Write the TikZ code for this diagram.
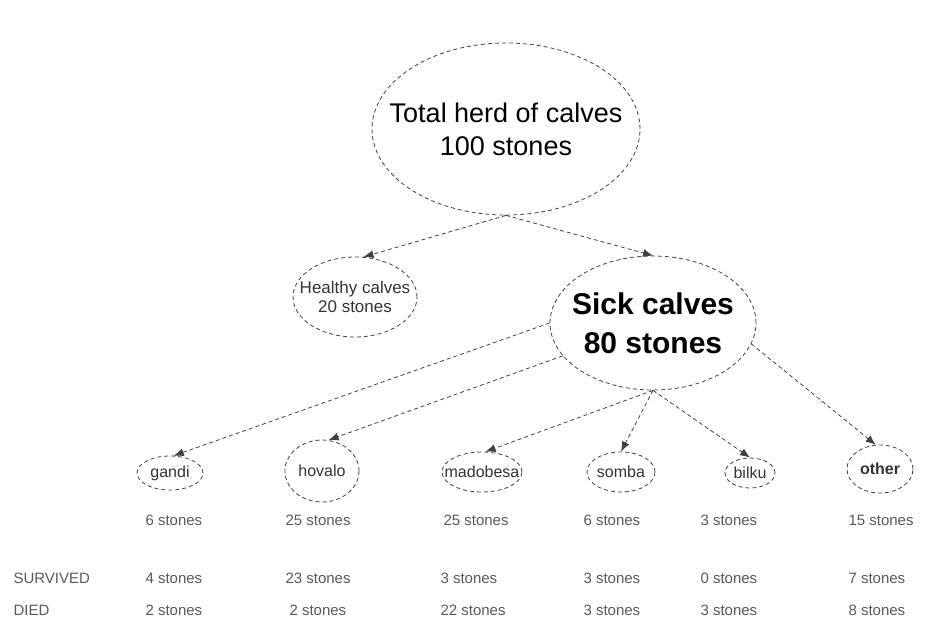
\documentclass[tikz,border=0pt]{standalone}
\usepackage{fontspec}
\setmainfont{Liberation Sans}
\usetikzlibrary{shapes.geometric, arrows.meta, positioning}

\begin{document}
\begin{tikzpicture}[x=1pt,y=-1pt,
		herd/.style={ellipse, draw=black!75, line width=0.8pt, dash pattern=on 4pt off 3pt, inner sep=0pt},
		link/.style={draw=black!75, line width=0.8pt, dash pattern=on 4pt off 3pt, -{Latex[length=10pt,width=8pt]}},
		breedtext/.style={font=\fontsize{16}{16}\selectfont, text=black!80},
		count/.style={anchor=west, font=\fontsize{15}{15}\selectfont, text=black!65}
	]
				\useasboundingbox (0,0) rectangle (944,637);
				% top levels
				\node[herd, minimum width=268pt, minimum height=172pt, label={[align=center, font=\fontsize{27}{33}\selectfont]center:Total herd of calves\\100 stones}] (total) at (506,129) {};
				\node[herd, minimum width=124pt, minimum height=80pt, label={[align=center, font=\fontsize{17}{19}\selectfont, text=black!80]center:Healthy calves\\20 stones}] (healthy) at (355,297) {};
				\node[herd, minimum width=206pt, minimum height=134pt, label={[align=center, font=\bfseries\fontsize{30}{39}\selectfont]center:Sick calves\\80 stones}] (sick) at (653,323) {};
				% breeds
				\node[herd, minimum width=66pt, minimum height=34pt, label={[breedtext]center:gandi}] (gandi) at (170,473) {};
				\node[herd, minimum width=74pt, minimum height=62pt, label={[breedtext]center:hovalo}] (hovalo) at (322,471) {};
				\node[herd, minimum width=80pt, minimum height=40pt, label={[breedtext]center:madobesa}] (madobesa) at (482,472) {};
				\node[herd, minimum width=68pt, minimum height=40pt, label={[breedtext]center:somba}] (somba) at (621,472) {};
				\node[herd, minimum width=50pt, minimum height=30pt, label={[breedtext]center:bilku}] (bilku) at (750,473) {};
				\node[herd, minimum width=66pt, minimum height=48pt, label={[breedtext, font=\bfseries\fontsize{16}{16}\selectfont]center:other}] (other) at (880,469) {};
				% connectors
				\draw[link] (total.south) -- (healthy.78);
				\draw[link] (total.south) -- (sick.north);
				\draw[link] (sick.west) -- (gandi.78);
				\draw[link] (sick.200) -- (hovalo.78);
				\draw[link] (sick.south) -- (madobesa.80);
				\draw[link] (sick.south) -- (somba.north);
				\draw[link] (sick.south) -- (bilku.north);
				\draw[link] (sick.-12) -- (other.100);
				% row labels
				\node[count] (survived) at (10,578) {SURVIVED};
				\node[count] (died) at (10,610) {DIED};
				% totals per breed
				\node[count] (gandiall) at (142,520) {6 stones};
				\node[count] (gandisur) at (142,578) {4 stones};
				\node[count] (gandidie) at (142,610) {2 stones};
				\node[count] (hovaloall) at (282,520) {25 stones};
				\node[count] (hovalosur) at (282,578) {23 stones};
				\node[count] (hovalodie) at (286,610) {2 stones};
				\node[count] (madobesaall) at (440,520) {25 stones};
				\node[count] (madobesasur) at (437,578) {3 stones};
				\node[count] (madobesadie) at (437,610) {22 stones};
				\node[count] (sombaall) at (580,520) {6 stones};
				\node[count] (sombasur) at (580,578) {3 stones};
				\node[count] (sombadie) at (580,610) {3 stones};
				\node[count] (bilkuall) at (697,520) {3 stones};
				\node[count] (bilkusur) at (697,578) {0 stones};
				\node[count] (bilkudie) at (697,610) {3 stones};
				\node[count] (otherall) at (845,520) {15 stones};
				\node[count] (othersur) at (845,578) {7 stones};
				\node[count] (otherdie) at (845,610) {8 stones};
			\end{tikzpicture}
\end{document}
